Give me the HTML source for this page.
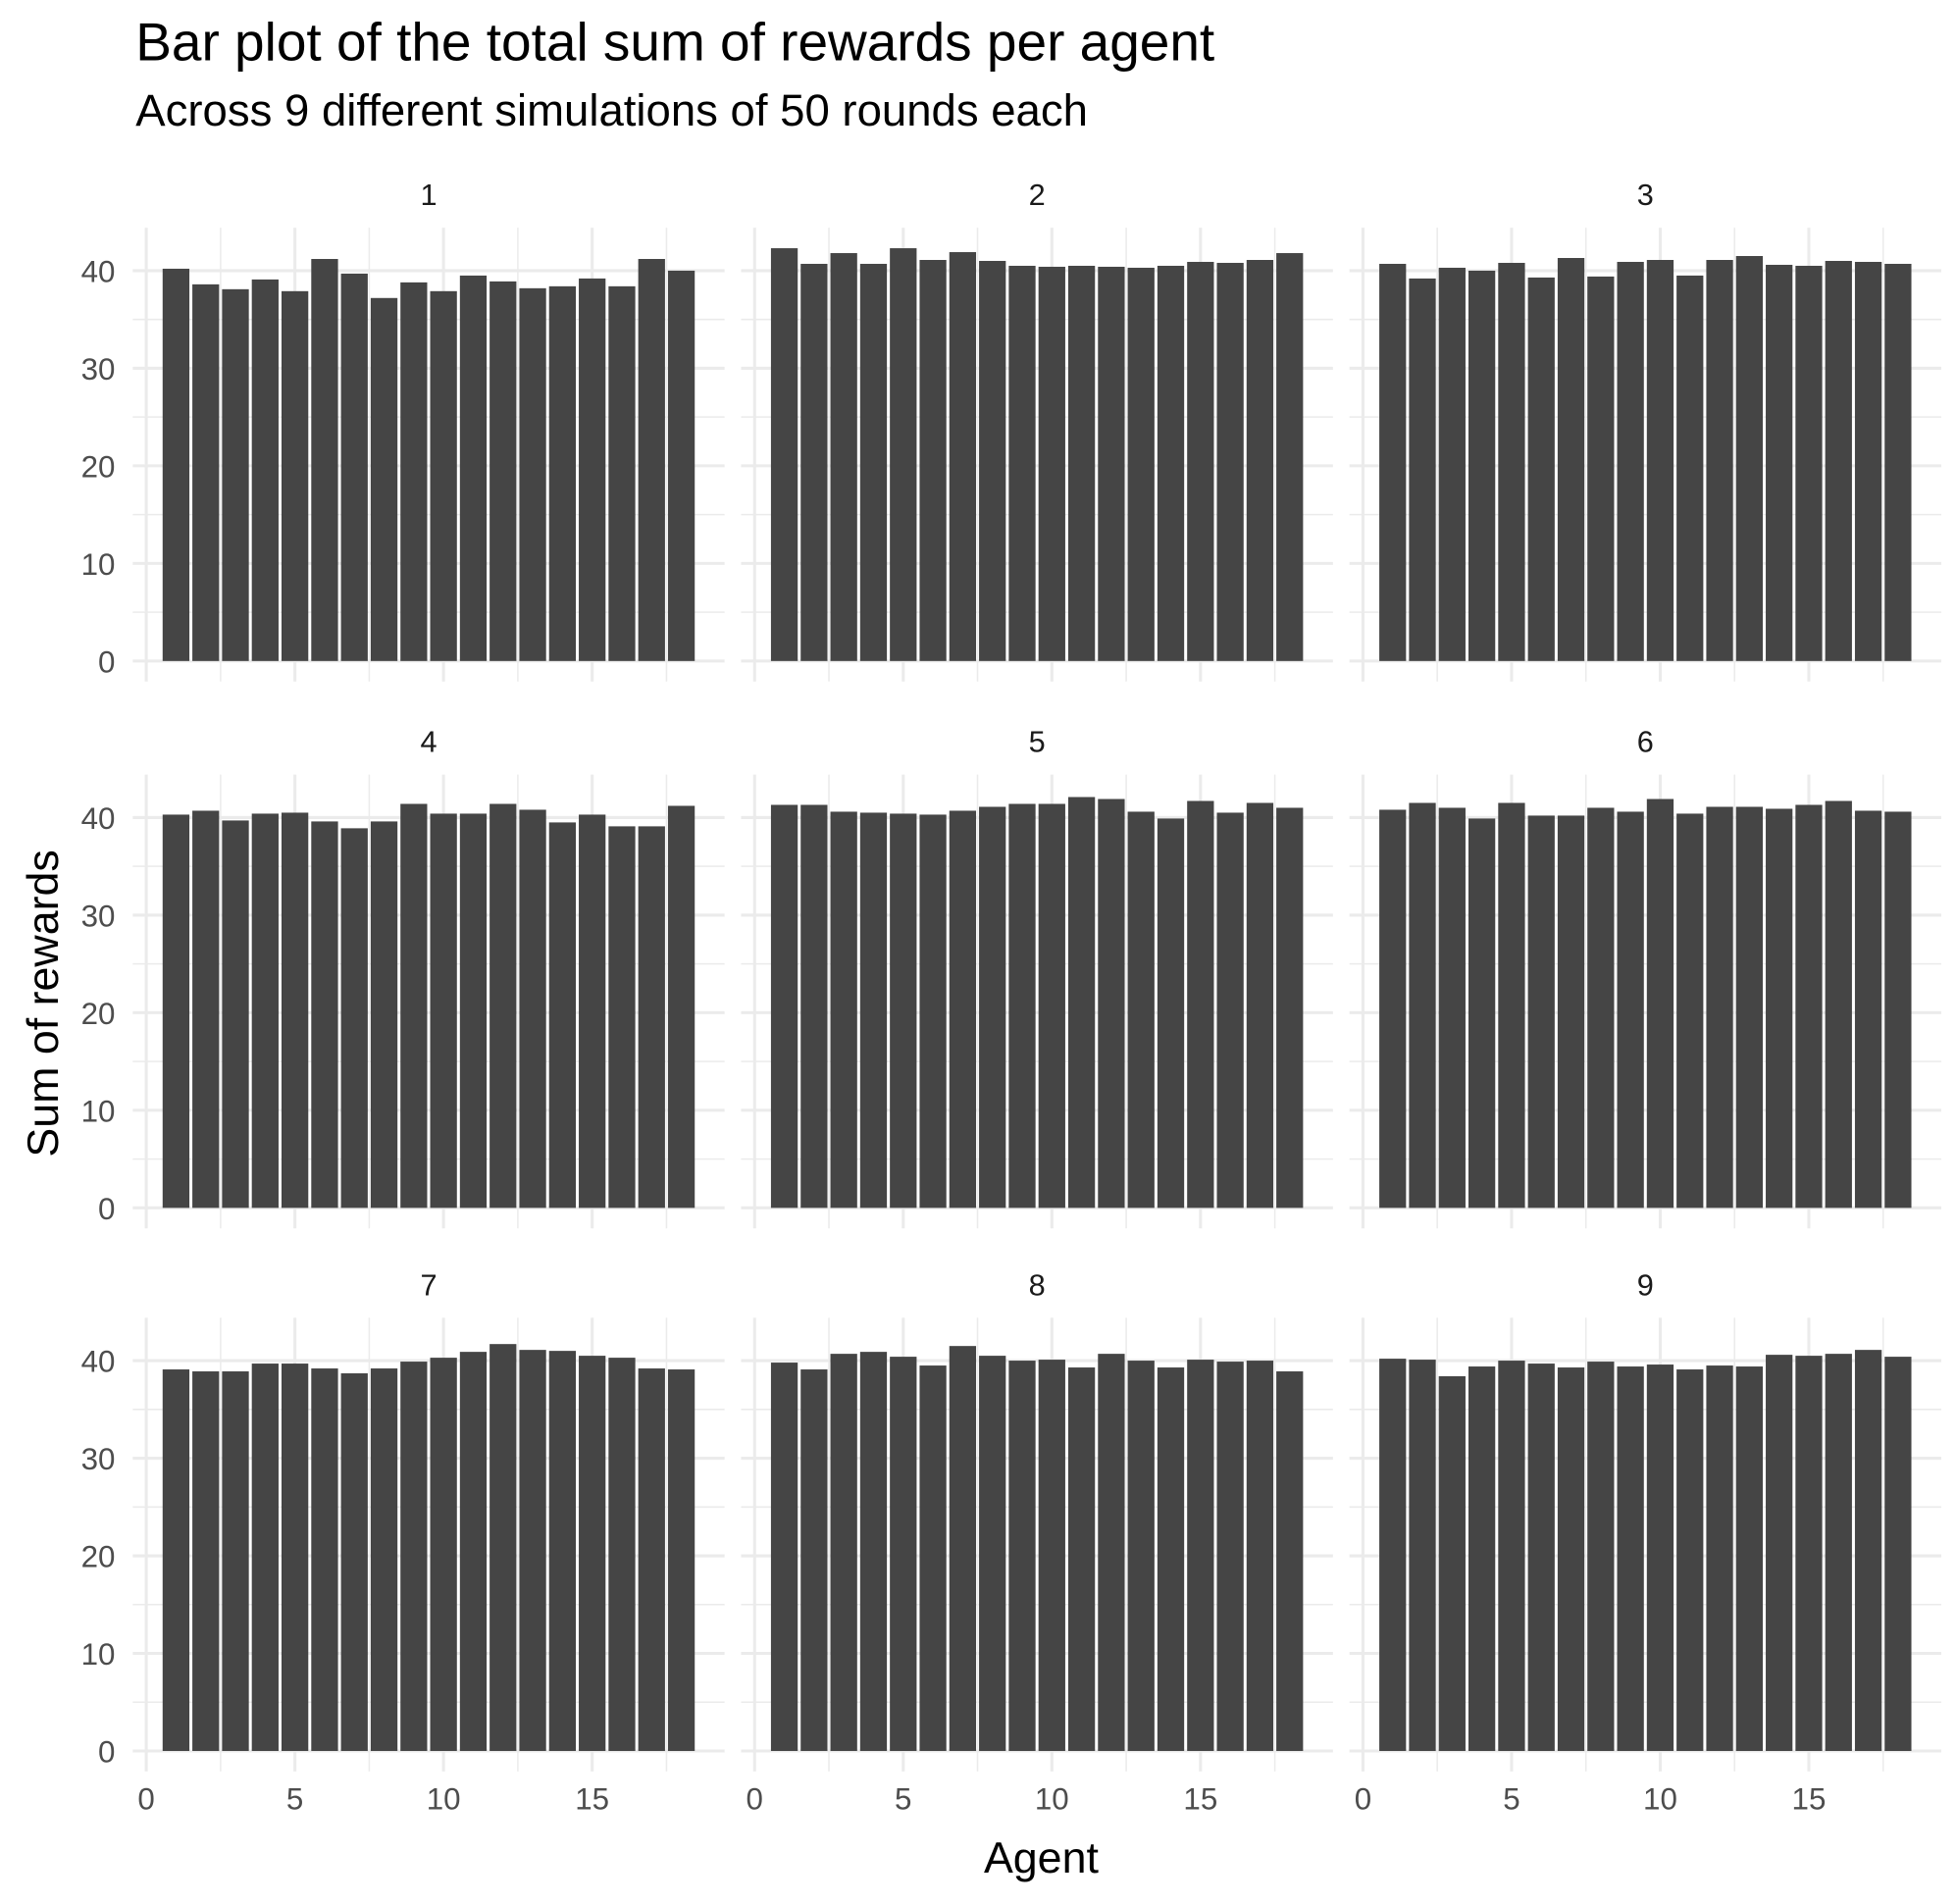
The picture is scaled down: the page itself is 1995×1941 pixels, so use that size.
<!DOCTYPE html>
<html><head><meta charset="utf-8"><style>
html,body{margin:0;padding:0;background:#fff;}
svg{display:block;font-family:"Liberation Sans",Arial,sans-serif;}
</style></head><body>
<svg id="chart" width="1995" height="1941" viewBox="0 0 1560 1518" xmlns="http://www.w3.org/2000/svg">
<rect width="1560" height="1518" fill="#fff"/>
<text x="108" y="48" font-size="43" fill="#000">Bar plot of the total sum of rewards per agent</text>
<text x="108" y="100" font-size="35.6" fill="#000">Across 9 different simulations of 50 rounds each</text>
<text x="830" y="1493" font-size="35" text-anchor="middle" fill="#000">Agent</text>
<text transform="translate(46,800) rotate(-90)" font-size="35" text-anchor="middle" fill="#000">Sum of rewards</text>
<g id="panels"></g>
</svg>
<script>
const agents = [1,2,3,4,5,6,7,8,9,10,11,12,13,14,15,16,17,18];
const sim1 = [40.2,38.6,38.1,39.1,37.9,41.2,39.7,37.2,38.8,37.9,39.5,38.9,38.2,38.4,39.2,38.4,41.2,40.0];
const sim2 = [42.3,40.7,41.8,40.7,42.3,41.1,41.9,41.0,40.5,40.4,40.5,40.4,40.3,40.5,40.9,40.8,41.1,41.8];
const sim3 = [40.7,39.2,40.3,40.0,40.8,39.3,41.3,39.4,40.9,41.1,39.5,41.1,41.5,40.6,40.5,41.0,40.9,40.7];
const sim4 = [40.3,40.7,39.7,40.4,40.5,39.6,38.9,39.6,41.4,40.4,40.4,41.4,40.8,39.5,40.3,39.1,39.1,41.2];
const sim5 = [41.3,41.3,40.6,40.5,40.4,40.3,40.7,41.1,41.4,41.4,42.1,41.9,40.6,39.9,41.7,40.5,41.5,41.0];
const sim6 = [40.8,41.5,41.0,39.9,41.5,40.2,40.2,41.0,40.6,41.9,40.4,41.1,41.1,40.9,41.3,41.7,40.7,40.6];
const sim7 = [39.1,38.9,38.9,39.7,39.7,39.2,38.7,39.2,39.9,40.3,40.9,41.7,41.1,41.0,40.5,40.3,39.2,39.1];
const sim8 = [39.8,39.1,40.7,40.9,40.4,39.5,41.5,40.5,40.0,40.1,39.3,40.7,40.0,39.3,40.1,39.9,40.0,38.9];
const sim9 = [40.2,40.1,38.4,39.4,40.0,39.7,39.3,39.9,39.4,39.6,39.1,39.5,39.4,40.6,40.5,40.7,41.1,40.4];
const simLabels = ["1","2","3","4","5","6","7","8","9"];
const yTicks = [0,10,20,30,40];
const xTicks = [0,5,10,15];

const sims=[sim1,sim2,sim3,sim4,sim5,sim6,sim7,sim8,sim9];
const NS="http://www.w3.org/2000/svg";
const g=document.getElementById('panels');
function mk(tag,attrs,parent){const e=document.createElementNS(NS,tag);for(const k in attrs)e.setAttribute(k,attrs[k]);(parent||g).appendChild(e);return e;}
const pxPerX=23.7, pxPerY=7.78;
const zeroX0=116.5, colStep=485;
const zeroYs=[527,963,1396];
const yMin=-2.1, yMax=44.4, xMin=-0.455, xMax=19.455;
sims.forEach((vals,i)=>{
  const col=i%3,row=Math.floor(i/3);
  const x0=zeroX0+col*colStep, y0=zeroYs[row];
  const X=v=>x0+v*pxPerX, Y=v=>y0-v*pxPerY;
  const pg=mk('g',{});
  
  
  const L=X(xMin),R=X(xMax),T=Y(yMax),B=Y(yMin);
  for(let v=5;v<yMax;v+=10) mk('line',{x1:L,x2:R,y1:Y(v),y2:Y(v),stroke:'#ebebeb','stroke-width':1.2},pg);
  for(let v=2.5;v<xMax;v+=5) mk('line',{x1:X(v),x2:X(v),y1:T,y2:B,stroke:'#ebebeb','stroke-width':1.2},pg);
  yTicks.forEach(v=>{const l=mk('line',{x1:L,x2:R,y1:Y(v),y2:Y(v),stroke:'#ebebeb','stroke-width':2.4},pg);
    
    });
  xTicks.forEach(v=>mk('line',{x1:X(v),x2:X(v),y1:T,y2:B,stroke:'#ebebeb','stroke-width':2.4},pg));
  vals.forEach((v,j)=>{
    const a=agents[j];
    const r=mk('rect',{x:X(a-0.45),width:0.9*pxPerX,y:Y(v),height:Y(0)-Y(v),fill:'#454545'},pg);
    
    
  });
  const s=mk('text',{x:(L+R)/2,y:T-18,'font-size':24,'text-anchor':'middle',fill:'#1a1a1a'},pg);
  s.textContent=simLabels[i];
  
  
  if(col===0){yTicks.forEach(v=>{const t=mk('text',{x:L-14,y:Y(v)+9,'font-size':24.5,'text-anchor':'end',fill:'#4d4d4d'},pg);t.textContent=v;
    
    });}
  if(row===2){xTicks.forEach(v=>{const t=mk('text',{x:X(v),y:B+30,'font-size':24.5,'text-anchor':'middle',fill:'#4d4d4d'},pg);t.textContent=v;
    
    });}
});
</script>
</body></html>
